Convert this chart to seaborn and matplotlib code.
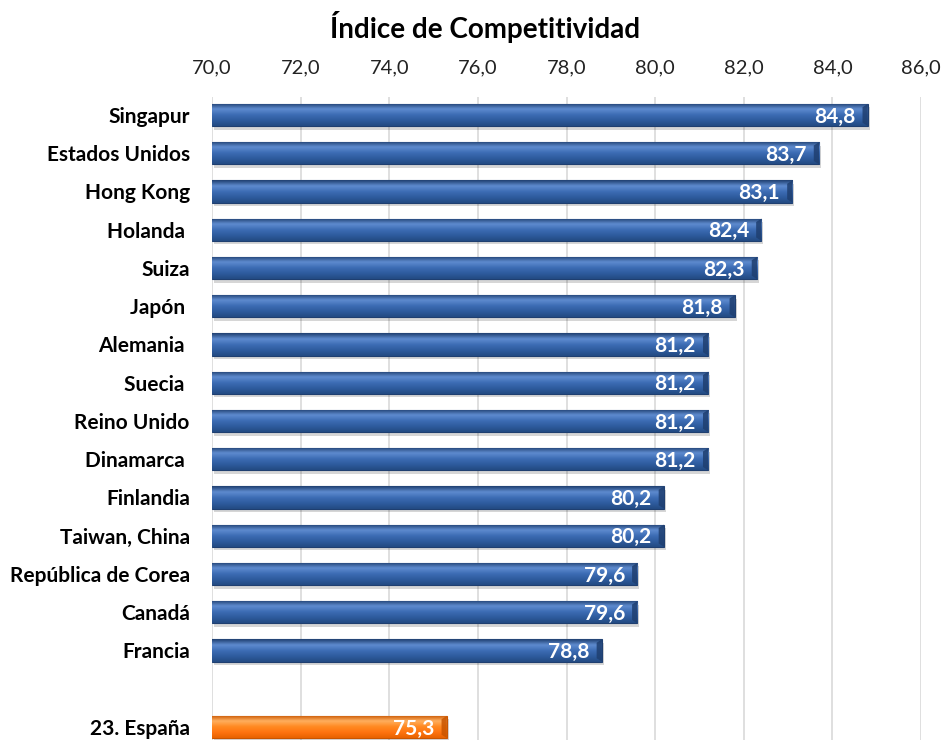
import numpy as np
import pandas as pd
import matplotlib
matplotlib.use("Agg")
import matplotlib.pyplot as plt
import seaborn as sns
from matplotlib.colors import LinearSegmentedColormap
from matplotlib.patches import Polygon, Rectangle

countries = ["Singapur", "Estados Unidos", "Hong Kong", "Holanda ", "Suiza", "Japón ",
             "Alemania ", "Suecia ", "Reino Unido", "Dinamarca ", "Finlandia",
             "Taiwan, China", "República de Corea", "Canadá", "Francia", " ", "23. España"]
values = [84.8, 83.7, 83.1, 82.4, 82.3, 81.8, 81.2, 81.2, 81.2, 81.2, 80.2, 80.2,
          79.6, 79.6, 78.8, np.nan, 75.3]
title = "Índice de Competitividad"
xticks = [70, 72, 74, 76, 78, 80, 82, 84, 86]
xmin, xmax = 70, 86

blue = "#2F5E9E"
orange = "#FF7A12"
colors = [orange if c.startswith("23.") else blue for c in countries]

df = pd.DataFrame({"pais": countries, "valor": values})

sns.set_theme(style="white")
plt.rcParams["font.family"] = ["Lato", "DejaVu Sans"]

fig = plt.figure(figsize=(9.45, 7.40), dpi=100)
ax = fig.add_axes([212 / 945, 0.0, (921 - 212) / 945, (740 - 97) / 740])

sns.barplot(data=df, x="valor", y="pais", hue="pais", palette=colors, legend=False,
            orient="h", width=0.58, ax=ax, saturation=1)

ax.set_xlim(xmin, xmax)
n = len(countries)
ax.set_ylim(n - 1 + 0.34, -0.47)

grads = {
    blue: ["#1F3F70", "#5F8CD0", "#3D6DB5", "#2E5C9E", "#234A82"],
    orange: ["#C85500", "#FFB060", "#FF8A22", "#FF7410", "#E86200"],
}

for p in list(ax.patches):
    w = p.get_width()
    if not np.isfinite(w) or w <= 0:
        continue
    x1 = p.get_x() + w
    p.set_x(xmin)
    p.set_width(x1 - xmin)
    x0, y0, h = xmin, p.get_y(), p.get_height()
    fc = matplotlib.colors.to_hex(p.get_facecolor())
    key = orange if fc.lower() == orange.lower() else blue
    cmap = LinearSegmentedColormap.from_list("g", grads[key])
    sh = Rectangle((x0 + 0.04, y0 + 0.09), x1 - x0, h, facecolor="#000000", alpha=0.16,
                   edgecolor="none", zorder=1.5)
    ax.add_patch(sh)
    p.set_zorder(2)
    p.set_edgecolor(grads[key][0])
    p.set_linewidth(0.8)
    grad = np.linspace(0, 1, 64).reshape(-1, 1)
    im = ax.imshow(grad, cmap=cmap, extent=(x0, x1, y0 + h, y0), aspect="auto",
                   zorder=2.1, interpolation="bicubic")
    im.set_clip_path(p)
    bev = 0.12
    poly = Polygon([(x1 - bev, y0 + h * 0.15), (x1, y0), (x1, y0 + h), (x1 - bev, y0 + h * 0.85)],
                   closed=True, facecolor=grads[key][0], edgecolor="none", alpha=0.85, zorder=2.2)
    ax.add_patch(poly)

for i, v in enumerate(values):
    if np.isfinite(v):
        ax.text(v - 0.28, i + 0.04, f"{v:.1f}".replace(".", ","), ha="right", va="center",
                color="white", fontsize=15, fontweight="bold", zorder=3)

ax.set_xticks(xticks)
ax.set_xticklabels([f"{t:.1f}".replace(".", ",") for t in xticks], fontsize=14.5, color="#222222")
ax.xaxis.tick_top()
ax.tick_params(axis="x", length=0, pad=15)
ax.tick_params(axis="y", length=0, pad=16)
for lbl in ax.get_yticklabels():
    lbl.set_fontweight("bold")
    lbl.set_fontsize(15)
    lbl.set_color("black")
ax.set_xlabel("")
ax.set_ylabel("")
ax.grid(axis="x", color="#D9D9D9", linewidth=1.2, zorder=0)
ax.set_axisbelow(True)
for s in ax.spines.values():
    s.set_visible(False)

fig.text(485 / 945, 1 - 27 / 740, title, ha="center", va="center", fontsize=20,
         fontweight="bold", color="black")

fig.savefig("out.png", dpi=100)
